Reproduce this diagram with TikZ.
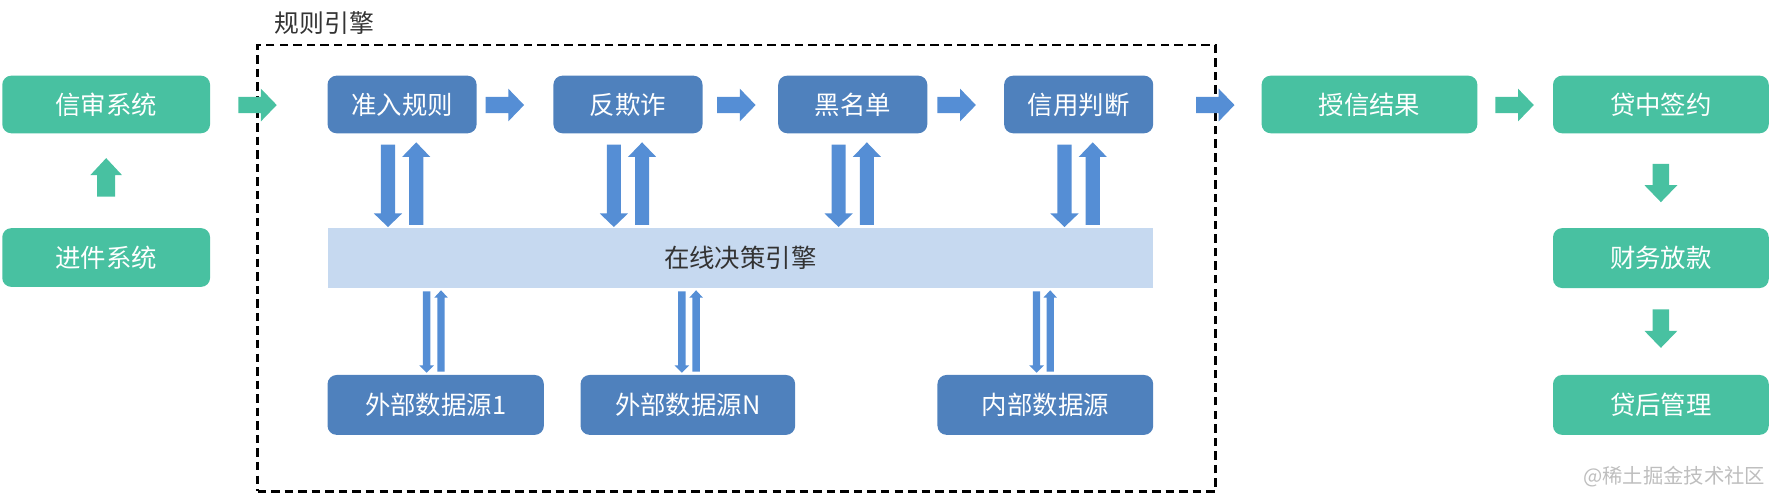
\documentclass[tikz,border=0pt]{standalone}
\usepackage{fontspec}
\setmainfont{Noto Sans CJK SC}
\definecolor{grn}{RGB}{72,193,161}
\definecolor{boxblue}{RGB}{79,129,189}
\definecolor{arrblue}{RGB}{85,142,213}
\definecolor{barblue}{RGB}{198,217,240}
\definecolor{txt}{RGB}{51,51,51}
\definecolor{wm}{RGB}{190,190,190}
\tikzset{
  base/.style={rounded corners=8pt, text=white, inner sep=0pt, font=\fontsize{22.5}{27}\selectfont},
  gbox/.style={base, fill=grn},
  bbox/.style={base, fill=boxblue},
}
% box: name, style, x1, y1, x2, y2, text
\newcommand\mybox[7]{%
  \node[#2, minimum width={(#5-#3)*1pt}, minimum height={(#6-#4)*1pt}] (#1) at ({(#3+#5)/2},{(#4+#6)/2}) {#7};}
% vertical block arrow: xc, ytail, yheadbase, ytip, shaftw, headw, color
\newcommand\varrow[7]{%
  \fill[#7] ({#1-#5/2},#2) -- ({#1-#5/2},#3) -- ({#1-#6/2},#3) -- (#1,#4) -- ({#1+#6/2},#3) -- ({#1+#5/2},#3) -- ({#1+#5/2},#2) -- cycle;}
% horizontal block arrow: yc, xtail, xheadbase, xtip, shafth, headh, color
\newcommand\harrow[7]{%
  \fill[#7] (#2,{#1-#5/2}) -- (#3,{#1-#5/2}) -- (#3,{#1-#6/2}) -- (#4,#1) -- (#3,{#1+#6/2}) -- (#3,{#1+#5/2}) -- (#2,{#1+#5/2}) -- cycle;}
\begin{document}
\begin{tikzpicture}[x=1pt,y=-1pt]
\useasboundingbox (0,0) rectangle (1568,436.5);
% dashed frame
\node[draw=black, line width=2.2pt, dash pattern=on 7.5pt off 4.5pt, minimum width=848pt, minimum height=395pt, inner sep=0pt] (engine) at (652,237.5) {};
\node[anchor=west, inner sep=0pt, text=txt, font=\fontsize{22}{26}\selectfont] (title) at (243,20) {规则引擎};
% left green
\mybox{xs}{gbox}{2}{67}{186}{118}{信审系统}
\mybox{jj}{gbox}{2}{202}{186}{254}{进件系统}
\varrow{94}{174}{155}{140}{16}{28}{grn}
\harrow{93}{211}{231}{245}{14.5}{29}{grn}
% top blue row
\mybox{zr}{bbox}{290}{67}{422}{118}{准入规则}
\mybox{fqz}{bbox}{490}{67}{622}{118}{反欺诈}
\mybox{hmd}{bbox}{689}{67}{821}{118}{黑名单}
\mybox{xy}{bbox}{889}{67}{1021}{118}{信用判断}
\harrow{93}{430}{450}{464}{14.5}{29}{arrblue}
\harrow{93}{635}{655}{669}{14.5}{29}{arrblue}
\harrow{93}{830}{850}{864}{14.5}{29}{arrblue}
\harrow{93}{1059}{1079}{1093}{14.5}{29}{arrblue}
% bar
\node[fill=barblue, minimum width=731pt, minimum height=52.5pt, inner sep=0pt, text=txt, font=\fontsize{22.5}{27}\selectfont] (bar) at (655.5,228.3) {在线决策引擎};
% thick double arrows
\foreach \c in {356,556,755,955}{
  \varrow{\c-12.5}{128}{189}{201}{12.5}{25}{arrblue}
  \varrow{\c+12.5}{199}{139}{126}{12.5}{25}{arrblue}
}
% bottom blue row
\mybox{wb1}{bbox}{290}{332}{481.5}{385}{外部数据源1}
\mybox{wbn}{bbox}{514}{332}{704}{385}{外部数据源N}
\mybox{nb}{bbox}{830}{332}{1021}{385}{内部数据源}
% thin double arrows
\varrow{377.7}{258}{323.5}{330}{6.5}{13}{arrblue}
\varrow{390.5}{329}{263.5}{257}{6.5}{12}{arrblue}
\varrow{603.7}{258}{323.5}{330}{6.5}{13}{arrblue}
\varrow{616.3}{329}{263.5}{257}{6.5}{12}{arrblue}
\varrow{917.7}{258}{323.5}{330}{6.5}{13}{arrblue}
\varrow{929.8}{329}{263.5}{257}{6.5}{12}{arrblue}
% right green
\mybox{sx}{gbox}{1117}{67}{1308}{118}{授信结果}
\harrow{93}{1324}{1344}{1358}{14.5}{29}{grn}
\mybox{dz}{gbox}{1375}{67}{1566}{118}{贷中签约}
\mybox{cw}{gbox}{1375}{202}{1566}{255}{财务放款}
\mybox{dh}{gbox}{1375}{332}{1566}{385}{贷后管理}
\varrow{1470.5}{145}{164}{179}{14.5}{29}{grn}
\varrow{1470.5}{274}{293}{308}{14.5}{29}{grn}
% watermark
\node[anchor=east, inner sep=0pt, text=wm, font=\fontsize{18}{22}\selectfont] (wmk) at (1563,422) {@稀土掘金技术社区};
\end{tikzpicture}
\end{document}
